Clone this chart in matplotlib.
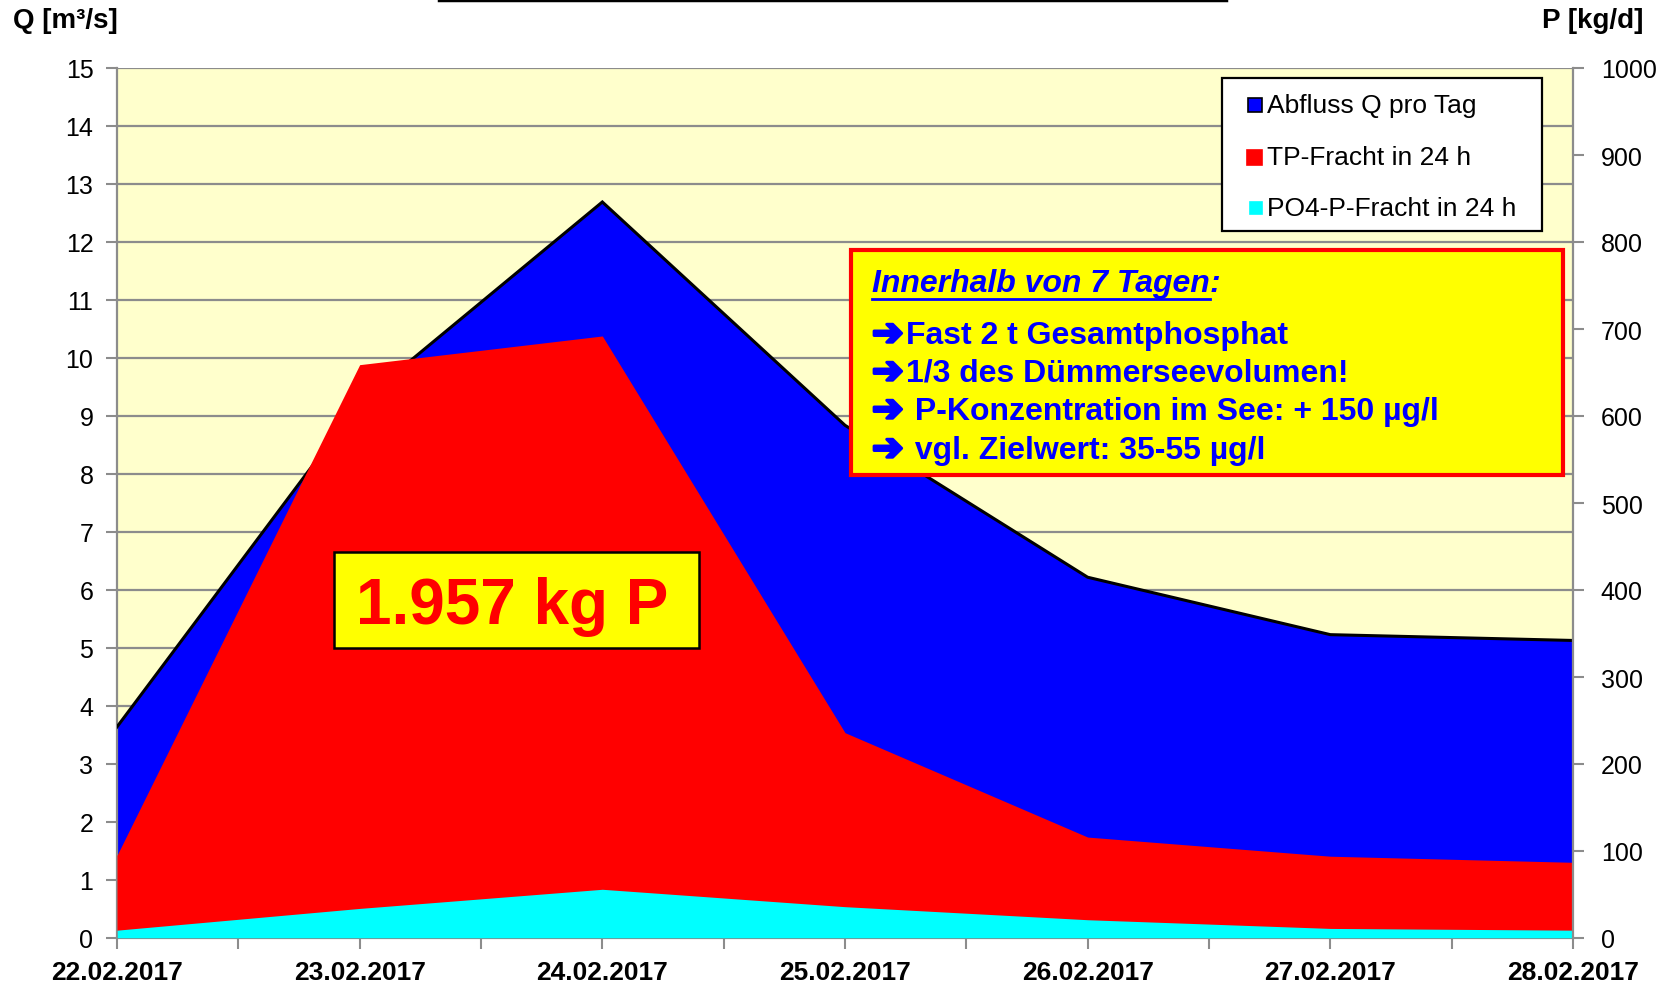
import matplotlib
matplotlib.use("Agg")
import matplotlib.pyplot as plt
import matplotlib.patheffects as pe
from matplotlib.patches import Rectangle
from matplotlib.lines import Line2D

plt.rcParams['font.family'] = ['Liberation Sans', 'DejaVu Sans']

# data
dates = ['22.02.2017', '23.02.2017', '24.02.2017', '25.02.2017',
         '26.02.2017', '27.02.2017', '28.02.2017']
abfluss_q = [3.64, 9.23, 12.69, 8.84, 6.22, 5.23, 5.13]   # m³/s, left axis
tp_fracht = [95, 659, 692, 236, 116, 94, 87]              # kg/d, right axis
po4_fracht = [9, 34, 56, 36, 21, 11, 9]                   # kg/d, right axis

legend_labels = ['Abfluss Q pro Tag', 'TP-Fracht in 24 h', 'PO4-P-Fracht in 24 h']
info_title = 'Innerhalb von 7 Tagen'
arrow = '\u2794'
info_lines = ['Fast 2 t Gesamtphosphat',
              '1/3 des Dümmerseevolumen!',
              ' P-Konzentration im See: + 150 µg/l',
              ' vgl. Zielwert: 35-55 µg/l']
total_label = '1.957 kg P'

W, H = 1671, 987
BLUE, RED, CYAN = '#0000ff', '#ff0000', '#00ffff'
GRID = '#8c8c8c'


def fx(px):
    return px / W


def fy(py):
    return 1 - py / H


fig = plt.figure(figsize=(W / 100, H / 100), dpi=100)
ax = fig.add_axes([fx(117), fy(939), (1573 - 117) / W, (939 - 69) / H])
ax.set_facecolor('#ffffcc')

x = list(range(len(dates)))
ax.fill_between(x, abfluss_q, color=BLUE, lw=0, zorder=2)
ax.plot(x, abfluss_q, color='black', lw=2.2, zorder=3, solid_joinstyle='miter')

ax.set_xlim(0, len(dates) - 1)
ax.set_ylim(0, 15)
ax.set_yticks(range(0, 16))
ax.grid(axis='y', color=GRID, lw=1.6)
ax.set_axisbelow(True)
ax.set_xticks(x)
ax.set_xticklabels(dates, fontweight='bold', fontsize=19)
ax.set_xticks([i + 0.5 for i in x[:-1]], minor=True)
ax.tick_params(axis='y', labelsize=18, length=8, width=1.5, color=GRID, pad=9)
ax.tick_params(axis='x', which='both', length=8, width=1.5, color=GRID, pad=8)
for s in ['top', 'right']:
    ax.spines[s].set_visible(False)
for s in ['left', 'bottom']:
    ax.spines[s].set_color(GRID)
    ax.spines[s].set_linewidth(1.6)

ax2 = ax.twinx()
ax2.fill_between(x, tp_fracht, color=RED, lw=0)
ax2.fill_between(x, po4_fracht, color=CYAN, lw=0)
ax2.set_ylim(0, 1000)
ax2.set_yticks(range(0, 1001, 100))
ax2.tick_params(axis='y', labelsize=18, length=8, width=1.5, color=GRID, pad=12)
for s in ['top', 'left', 'bottom']:
    ax2.spines[s].set_visible(False)
ax2.spines['right'].set_color(GRID)
ax2.spines['right'].set_linewidth(1.6)

# axis titles
fig.text(fx(13), fy(21), 'Q [m³/s]', fontsize=20, fontweight='bold', va='center')
fig.text(fx(1643), fy(21), 'P [kg/d]', fontsize=20, fontweight='bold', va='center', ha='right')

# cut-off title frame at the top
fig.add_artist(Line2D([fx(439), fx(1226)], [fy(1), fy(1)], color='black', lw=2.5))

# legend
fig.add_artist(Rectangle((fx(1222), fy(232)), 320 / W, 153 / H, facecolor='white',
                         edgecolor='black', lw=1.6, transform=fig.transFigure))
rows = [106, 158, 209]
styles = [(BLUE, 'black', 14), (RED, RED, 15), (CYAN, CYAN, 12)]
for ry, (fc, ec, sz), lab in zip(rows, styles, legend_labels):
    fig.add_artist(Rectangle((fx(1262 - sz), fy(ry + sz / 2)), sz / W, sz / H,
                             facecolor=fc, edgecolor=ec, lw=1.2, transform=fig.transFigure))
    fig.text(fx(1267), fy(ry), lab, fontsize=19, va='center')

# info box
fig.add_artist(Rectangle((fx(851), fy(476)), (1563 - 851) / W, (476 - 251) / H,
                         facecolor='#ffff00', edgecolor=RED, lw=3, transform=fig.transFigure))
t = fig.text(fx(872), fy(284), info_title, fontsize=23, fontweight='bold',
             fontstyle='italic', color=BLUE, va='center')
fig.canvas.draw()
bb = t.get_window_extent()
fig.text(bb.x1 / W, fy(284), ':', fontsize=23, fontweight='bold', fontstyle='italic',
         color=BLUE, va='center')
fig.add_artist(Line2D([bb.x0 / W, bb.x1 / W], [fy(300), fy(300)], color=BLUE, lw=2))
for ly, line in zip([336, 374, 412, 451], info_lines):
    a = fig.text(fx(872), fy(ly), arrow, fontsize=27, fontweight='bold', color=BLUE,
                 va='center', family='DejaVu Sans',
                 path_effects=[pe.withStroke(linewidth=2.2, foreground=BLUE)])
    fig.canvas.draw()
    ab = a.get_window_extent()
    fig.text((ab.x1 + 3) / W, fy(ly), line, fontsize=23, fontweight='bold', color=BLUE,
             va='center')

# total load box
fig.add_artist(Rectangle((fx(334), fy(649)), (699 - 334) / W, (649 - 553) / H,
                         facecolor='#ffff00', edgecolor='black', lw=1.8, transform=fig.transFigure))
fig.text(fx(512), fy(607), total_label, fontsize=46, fontweight='bold', color=RED,
         ha='center', va='center')

fig.savefig('out.png', dpi=100)
